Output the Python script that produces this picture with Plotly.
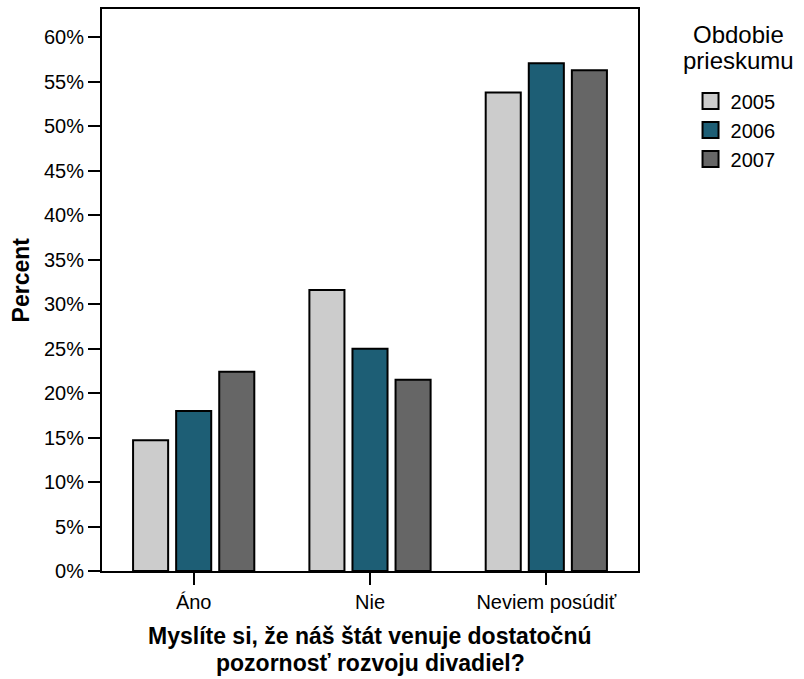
import plotly.graph_objects as go

# Survey answers (categories) and share of respondents per survey year, in %
kategorie = ['Áno', 'Nie', 'Neviem posúdiť']
roky = ['2005', '2006', '2007']
hodnoty_2005 = [14.7, 31.6, 53.8]
hodnoty_2006 = [18.0, 25.0, 57.1]
hodnoty_2007 = [22.4, 21.5, 56.3]
y_ticks = [0, 5, 10, 15, 20, 25, 30, 35, 40, 45, 50, 55, 60]
y_tick_labels = [f'{v}%' for v in y_ticks]

colors = ['#cccccc', '#1d5e75', '#666666']
font_family = 'Liberation Sans, Arial, sans-serif'

fig = go.Figure()
for rok, hodnoty, col in zip(roky, [hodnoty_2005, hodnoty_2006, hodnoty_2007], colors):
    fig.add_trace(go.Bar(
        x=kategorie,
        y=hodnoty,
        name=rok,
        legendgroup=rok,
        showlegend=False,
        marker=dict(color=col, line=dict(color='black', width=2)),
    ))
    # legend entry with a bigger square swatch
    fig.add_trace(go.Scatter(
        x=[None], y=[None],
        mode='markers',
        name=rok,
        legendgroup=rok,
        marker=dict(symbol='square', size=16, color=col,
                    line=dict(color='black', width=2)),
    ))

# titles drawn as annotations so the line spacing can follow the original
titles = [
    dict(text='<b>Percent</b>', x=-0.152, y=0.518, textangle=-90, size=23),
    dict(text='<b>Myslíte si, že náš štát venuje dostatočnú</b>', x=0.5, y=-0.116, textangle=0, size=23),
    dict(text='<b>pozornosť rozvoju divadiel?</b>', x=0.5, y=-0.164, textangle=0, size=23),
    dict(text='Obdobie', x=1.187, y=0.954, textangle=0, size=24),
    dict(text='prieskumu', x=1.187, y=0.908, textangle=0, size=24),
]

fig.update_layout(
    width=804,
    height=679,
    barmode='group',
    bargap=0.267,
    bargroupgap=0.186,
    plot_bgcolor='white',
    paper_bgcolor='white',
    font=dict(family=font_family, size=20, color='black'),
    margin=dict(l=102, r=166, t=9, b=108),
    showlegend=True,
    legend=dict(
        x=1.098, xanchor='left', y=0.871, yanchor='top',
        font=dict(size=20),
        itemsizing='trace',
        tracegroupgap=0,
        bgcolor='rgba(0,0,0,0)',
    ),
    annotations=[
        dict(text=t['text'], xref='paper', yref='paper', x=t['x'], y=t['y'],
             xanchor='center', yanchor='middle', textangle=t['textangle'],
             showarrow=False, font=dict(size=t['size']))
        for t in titles
    ],
)

fig.update_xaxes(
    range=[-0.52, 2.52],
    showline=True, linecolor='black', linewidth=2, mirror=True,
    ticks='outside', ticklen=12, tickwidth=2, tickcolor='black',
    tickfont=dict(size=20),
    showgrid=False, automargin=False,
)
fig.update_yaxes(
    range=[0, 63.2],
    tickvals=y_ticks, ticktext=y_tick_labels,
    showline=True, linecolor='black', linewidth=2, mirror=True,
    ticks='outside', ticklen=12, tickwidth=2, tickcolor='black',
    tickfont=dict(size=20),
    showgrid=False, zeroline=False, automargin=False,
)

fig.write_html('out.html', config={'displayModeBar': False},
               post_script="document.body.style.margin='0';")
